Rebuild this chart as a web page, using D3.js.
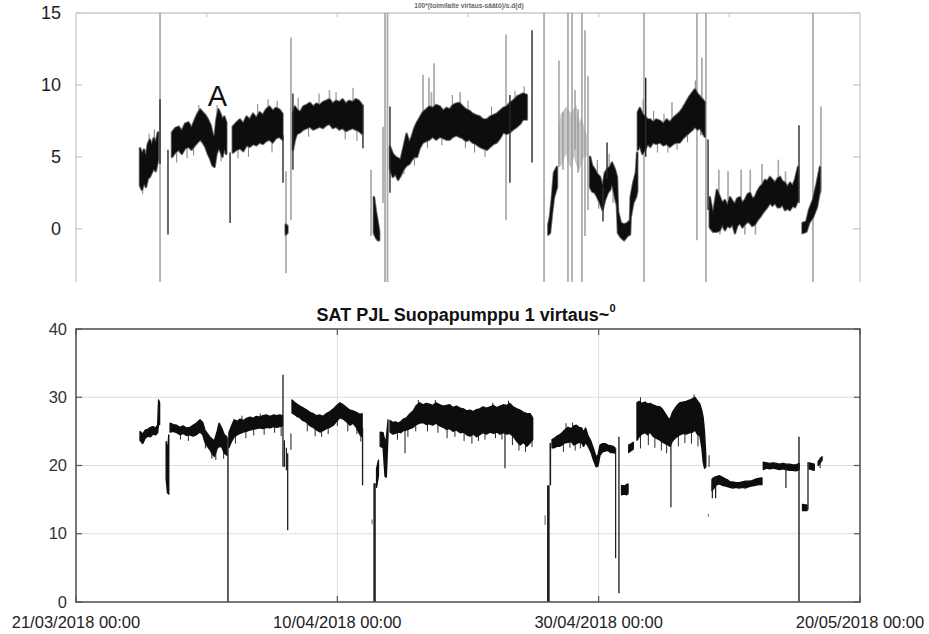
<!DOCTYPE html>
<html>
<head>
<meta charset="utf-8">
<script src="https://cdn.jsdelivr.net/npm/d3@7/dist/d3.min.js"></script>
<style>
  body { margin: 0; background: #fff; }
  svg { display: block; font-family: "Liberation Sans", Arial, sans-serif; }
</style>
</head>
<body>
<svg id="chart" width="929" height="634"></svg>
<script>
// Time axis: days counted from 21/03/2018 00:00
const startDate = Date.UTC(2018, 2, 21);
const xLabelDays = [0, 20, 40, 60];
const topTickDays = [0, 10, 20, 30, 40, 50, 60];
const topYTicks = [0, 5, 10, 15];
const bottomYTicks = [0, 10, 20, 30, 40];

const topTitle = "100*(toimilaite virtaus-säätö)/s.d(d)";
const bottomTitle = "SAT PJL Suopapumppu 1 virtaus~";
const bottomTitleSup = "0";
const markerLabel = { text: "A", day: 10.83, value: 8.55 };

// Upper panel: relative control signal, envelope per sample [day, low, high]
const topBands = [
  [[4.90,3.0,5.6],[5.05,2.7,5.2],[5.20,3.2,5.5],[5.35,2.9,5.0],[5.50,3.5,5.9],[5.65,3.6,6.2],[5.80,3.9,5.8],[5.95,4.2,6.3],[6.10,4.0,6.0],[6.28,4.8,6.7]],
  [[7.35,5.0,6.7],[7.60,5.3,7.0],[7.85,5.5,7.1],[8.10,5.2,6.8],[8.35,5.6,7.3],[8.60,5.7,7.4],[8.85,5.5,7.0],[9.10,5.8,7.6],[9.30,6.0,8.0],[9.50,6.2,8.3],[9.70,6.0,8.1],[9.90,5.7,7.9],[10.10,5.2,7.6],[10.30,4.8,7.2],[10.45,4.4,6.6],[10.60,4.3,6.3],[10.75,5.2,7.6],[10.90,5.6,8.3],[11.05,5.4,8.0],[11.20,5.0,7.6],[11.35,5.6,7.8],[11.50,5.2,7.4]],
  [[12.00,5.3,7.1],[12.30,5.5,7.4],[12.55,5.6,7.6],[12.80,5.4,7.3],[13.05,5.8,7.8],[13.30,5.7,7.6],[13.55,5.9,8.0],[13.80,5.8,7.7],[14.05,6.0,8.1],[14.30,5.9,7.9],[14.55,6.1,8.3],[14.80,6.2,8.5],[15.05,6.0,8.2],[15.30,6.3,8.4],[15.55,6.4,8.3],[15.80,6.2,8.0]],
  [[16.05,-0.4,0.3],[16.18,-0.3,0.2]],
  [[16.60,5.5,8.0],[16.75,6.2,8.5],[16.90,6.6,8.3],[17.15,6.7,8.1],[17.40,6.9,8.5],[17.65,7.0,8.6],[17.90,7.1,8.75],[18.15,6.9,8.5],[18.40,7.0,8.7],[18.65,7.1,8.6],[18.90,7.0,8.8],[19.15,7.2,8.9],[19.40,7.3,9.0],[19.65,7.0,8.7],[19.90,7.1,8.9],[20.15,6.9,8.8],[20.40,7.0,9.0],[20.65,6.8,8.7],[20.90,6.9,8.9],[21.15,7.0,8.8],[21.40,6.9,9.0],[21.65,6.8,8.9],[21.90,6.6,8.6]],
  [[22.80,-0.3,2.2],[22.95,-0.6,1.2],[23.10,-0.8,0.4],[23.20,-0.8,-0.2]],
  [[24.03,4.2,5.7],[24.25,3.6,5.2],[24.45,3.8,5.0],[24.65,3.4,4.9],[24.85,3.7,4.8],[25.05,4.1,5.6],[25.30,4.4,6.6],[25.50,4.5,6.0],[25.70,4.8,6.4],[25.90,5.0,7.0],[26.10,5.0,7.4],[26.30,5.6,7.7],[26.55,6.0,8.1],[26.80,6.1,8.3],[27.05,6.2,8.5],[27.30,6.4,8.4],[27.55,6.2,8.6],[27.85,6.4,8.5],[28.10,6.3,8.2],[28.35,6.2,8.4],[28.60,6.2,8.3],[28.85,6.4,8.6],[29.10,6.5,8.7],[29.35,6.4,8.75],[29.60,6.3,8.5],[29.85,6.1,8.3],[30.10,6.2,8.2],[30.35,6.0,8.0],[30.60,5.9,7.9],[30.90,5.7,7.8],[31.15,5.6,7.6],[31.45,5.5,7.6],[31.70,5.7,7.8],[31.95,5.9,7.9],[32.20,6.0,8.0],[32.45,6.3,8.2],[32.70,6.7,8.4],[32.95,6.6,8.5],[33.20,6.7,8.75],[33.45,6.9,8.9],[33.75,7.1,9.2],[34.00,7.3,9.3],[34.20,7.6,9.4],[34.50,7.6,9.3]],
  [[36.15,-0.4,0.3],[36.27,-0.3,0.8],[36.43,1.1,2.2],[36.58,2.2,3.9],[36.81,2.9,4.3]],
  [[39.34,2.9,5.0],[39.50,2.6,4.4],[39.72,2.5,4.1],[39.90,2.2,3.8],[40.10,1.8,3.6],[40.30,1.3,2.9],[40.48,2.0,3.9],[40.70,2.5,4.2],[40.87,2.7,4.3],[41.02,3.2,4.6],[41.25,2.2,4.1],[41.40,1.6,3.6],[41.48,-0.3,1.2],[41.70,-0.6,0.4],[41.95,-0.8,0.3],[42.20,-0.5,0.4],[42.40,-0.4,0.6],[42.45,0.8,2.2],[42.65,1.8,3.2],[42.85,2.2,3.9],[42.95,2.6,5.3]],
  [[43.00,5.5,8.1],[43.15,5.8,8.4],[43.35,5.2,8.0],[43.55,5.5,7.8],[43.75,5.9,7.6],[43.95,5.7,7.6],[44.15,6.0,7.4],[44.40,5.9,7.6],[44.70,6.0,7.5],[44.95,5.8,7.3],[45.20,5.9,7.6],[45.45,5.7,7.4],[45.70,5.9,7.7],[45.95,6.0,7.9],[46.20,6.0,8.1],[46.45,6.3,8.4],[46.70,6.5,8.8],[46.95,6.7,9.2],[47.20,6.9,9.5],[47.37,7.1,9.7],[47.55,6.9,9.4],[47.75,7.0,9.2],[47.95,6.7,9.0],[48.12,6.4,8.8]],
  [[48.50,0.1,2.2],[48.75,-0.2,1.0],[49.05,-0.2,2.7],[49.28,-0.1,2.2],[49.45,0.3,1.8],[49.66,-0.1,2.0],[49.85,0.2,1.6],[50.05,0.1,2.2],[50.25,0.3,1.9],[50.43,-0.3,1.7],[50.60,0.2,2.1],[50.81,0.4,2.2],[51.00,0.1,1.8],[51.19,0.3,2.0],[51.40,0.5,2.4],[51.58,0.4,2.5],[51.75,0.2,2.1],[51.96,0.3,2.2],[52.15,0.6,2.6],[52.34,0.8,2.9],[52.55,1.1,3.1],[52.73,1.3,3.4],[52.90,1.5,3.3],[53.11,1.8,3.6],[53.30,1.6,3.4],[53.49,1.8,3.2],[53.70,1.5,3.5],[53.88,1.5,3.6],[54.05,1.7,3.3],[54.26,1.3,3.2],[54.45,1.4,2.9],[54.64,1.3,3.2],[54.85,1.6,3.0],[55.03,1.5,3.4],[55.26,2.0,4.3]],
  [[55.60,-0.3,0.4],[55.90,-0.2,0.5],[56.10,0.4,1.3],[56.40,0.8,2.0],[56.70,1.5,3.2],[56.94,2.7,4.3]]
];

// Upper panel: sparse, lighter samples between 37 and 39 days
const topGrayBand = [[36.90,4.6,6.8],[37.10,4.3,8.0],[37.30,4.8,8.2],[37.50,5.2,8.5],[37.70,4.5,8.3],[37.90,4.2,8.0],[38.10,5.0,8.4],[38.30,4.4,8.6],[38.50,4.0,7.4],[38.70,4.6,7.8],[38.90,5.0,7.0],[39.10,5.0,6.5]];

// Upper panel: vertical excursions [day, low, high] (null = beyond the frame)
const topSpikesGray = [
  [6.43,null,null],[23.65,null,null],[23.84,null,null],[35.82,null,null],[37.65,null,null],[37.96,null,null],[38.72,null,null],[43.47,null,null],[48.21,null,null],[56.40,null,null],
  [16.07,-3.1,4.0],[16.45,0.6,13.3],[32.91,0.6,13.5],[47.52,-0.8,null],[38.95,-0.5,13.8],[39.18,1.3,10.6],[36.96,4.3,11.7],[37.27,4.1,8.1],[38.19,5.5,9.65],[38.42,3.9,8.3],[47.90,6.5,11.9],[57.01,2.5,8.5],[23.50,1.8,7.1],[22.58,-0.5,4.1],
  [26.56,7.5,10.7],[27.01,7.5,10.5],[27.40,7.8,11.5],[27.20,7.0,9.5],[19.40,8.8,9.65],[29.40,8.5,9.5],[45.61,7.5,8.8],[46.45,8.0,8.6],
  [49.28,-0.4,1.0],[50.43,-0.4,1.0],[51.19,-0.4,0.8],[52.00,-0.4,0.5],[49.20,2.0,4.1],[49.90,2.0,4.0],[50.90,2.0,4.1],[51.60,2.3,4.1],[52.50,2.8,4.5],[53.75,3.0,4.8],[54.30,3.0,4.0]
];
// Upper panel: short whiskers around the dense band [day, low, high]
const topWhiskers = [
  [5.10,2.4,3.2],[5.60,6.0,6.6],[6.00,6.2,6.9],
  [7.70,4.6,5.6],[8.50,4.9,5.8],[9.00,5.1,6.0],[9.40,8.0,8.6],[10.80,7.5,8.6],[11.10,4.7,5.6],
  [12.40,4.9,5.7],[13.20,5.0,6.0],[13.90,8.0,8.7],[14.70,8.3,9.0],[15.00,5.3,6.2],[15.40,8.2,8.9],
  [17.00,8.2,9.1],[17.80,6.4,7.3],[18.60,8.5,9.4],[19.90,8.7,9.5],[20.60,6.2,7.0],[21.20,8.6,9.8],[21.50,6.1,7.0],
  [25.10,3.8,5.0],[25.90,4.4,5.2],[26.90,5.6,6.3],[28.00,5.8,6.5],[28.80,8.5,9.3],[29.80,5.6,6.3],[30.00,8.0,8.9],[30.50,5.3,6.2],[31.30,5.0,5.8],[31.80,7.7,8.5],[33.60,8.8,9.6],[34.30,9.2,9.9],
  [39.90,3.8,4.8],[40.00,1.4,2.3],[40.80,4.2,5.2],[41.10,1.8,2.8],
  [43.40,8.0,9.0],[44.20,7.3,8.2],[44.50,5.3,6.0],[45.00,7.2,8.0],[45.30,5.3,6.0],[46.00,5.5,6.1],[46.80,6.0,6.6],[47.40,9.5,10.3],[47.80,6.5,7.2]
];
const topSpikesDark = [
  [6.43,4.5,9.0],[7.04,-0.4,5.5],[11.79,0.4,5.3],[15.84,3.2,6.5],[16.60,4.1,9.4],[21.96,5.6,8.6],[34.90,4.6,13.8],[33.21,3.2,9.3],[40.33,0.5,2.9],[40.64,3.5,6.0],[43.60,5.0,10.5],[48.37,1.3,6.2],[55.33,1.8,7.2],[24.03,2.5,8.5]
];

// Lower panel: pump flow envelope [day, low, high]
const bottomBands = [
  [[4.90,23.7,25.0],[5.10,23.2,24.6],[5.30,24.0,25.2],[5.50,24.3,25.3],[5.70,24.2,25.6],[5.90,24.6,25.7],[6.10,24.5,25.5],[6.25,24.8,26.0],[6.32,26.0,29.6],[6.40,26.0,29.2]],
  [[6.90,18.0,23.5],[7.00,16.0,22.0],[7.10,15.8,24.5]],
  [[7.20,24.9,26.2],[7.45,25.0,26.0],[7.70,24.8,25.9],[7.96,24.5,25.6],[8.20,24.7,25.8],[8.45,24.4,25.5],[8.72,24.5,25.6],[8.95,24.3,25.9],[9.20,24.5,26.2],[9.49,24.9,26.7],[9.70,24.5,26.3],[9.87,23.4,25.2],[10.05,22.8,24.7],[10.25,22.3,24.2],[10.45,21.6,23.8],[10.60,21.3,23.7],[10.80,22.5,25.0],[10.95,22.8,26.2],[11.15,22.7,25.5],[11.35,21.8,24.5],[11.55,21.5,24.2]],
  [[11.70,22.6,24.8],[11.90,23.5,25.8],[12.10,24.2,26.7],[12.35,24.5,26.5],[12.55,24.7,26.8],[12.80,24.9,26.6],[13.05,25.0,26.9],[13.32,25.2,27.1],[13.55,25.3,26.9],[13.80,25.4,27.2],[14.08,25.5,27.1],[14.30,25.4,27.3],[14.60,25.6,27.4],[14.85,25.5,27.2],[15.10,25.7,27.4],[15.35,25.6,27.3],[15.61,25.7,27.4],[15.80,25.8,27.3]],
  [[16.53,27.7,29.6],[16.70,27.5,29.3],[16.90,27.2,29.0],[17.14,27.0,28.7],[17.35,26.6,28.5],[17.60,26.4,28.2],[17.91,25.8,27.8],[18.15,25.6,27.6],[18.40,25.2,27.3],[18.67,24.9,27.4],[18.90,25.1,27.2],[19.15,25.4,27.6],[19.44,25.6,27.9],[19.70,25.9,28.3],[19.95,26.5,28.8],[20.20,27.0,29.2],[20.45,26.8,28.9],[20.70,26.4,28.5],[20.97,25.9,28.1],[21.20,26.2,28.0],[21.45,25.6,27.8],[21.73,24.5,27.5],[21.90,24.2,27.6]],
  [[23.00,16.8,19.5],[23.15,18.5,20.8]],
  [[23.28,22.8,24.9],[23.50,22.6,24.8],[23.65,18.4,23.5],[23.75,18.3,24.0],[23.88,24.5,26.7]],
  [[24.03,24.9,26.6],[24.25,24.6,26.3],[24.45,24.7,26.4],[24.65,24.9,26.2],[24.85,24.8,26.4],[25.05,25.1,26.8],[25.30,25.2,27.0],[25.55,25.4,27.6],[25.80,25.6,28.0],[26.05,26.0,28.8],[26.30,26.2,29.2],[26.55,26.3,28.9],[26.80,26.0,29.1],[27.05,26.1,29.0],[27.30,25.9,28.8],[27.55,26.2,29.2],[27.85,25.8,28.9],[28.10,25.6,28.7],[28.35,25.3,28.8],[28.60,25.4,28.9],[28.85,25.0,28.5],[29.10,25.2,28.7],[29.40,24.8,28.4],[29.65,24.9,28.3],[29.90,24.5,28.0],[30.15,24.3,28.1],[30.40,24.6,27.9],[30.65,24.2,28.2],[30.90,24.5,28.3],[31.15,24.8,28.6],[31.40,24.6,28.4],[31.70,24.9,28.6],[31.95,24.7,28.8],[32.20,24.9,28.5],[32.45,24.6,28.7],[32.70,24.8,28.9],[32.95,24.6,28.8],[33.20,24.7,29.1],[33.45,24.3,28.6],[33.75,23.5,28.3],[34.00,23.0,28.1],[34.25,23.4,27.8],[34.50,22.8,27.6],[34.75,23.3,27.6],[34.95,23.8,27.0]],
  [[36.43,22.6,23.8],[36.60,22.6,24.0],[36.80,22.8,24.3],[37.00,22.8,24.5],[37.20,23.0,24.8],[37.40,23.3,25.2],[37.65,23.4,25.6],[37.90,23.5,25.4],[38.10,23.0,25.8],[38.30,23.2,25.9],[38.50,23.4,25.6],[38.70,23.3,25.5],[38.85,22.8,24.9],[39.00,23.4,25.5],[39.20,22.8,24.3],[39.40,22.0,23.6],[39.60,20.8,22.5],[39.80,19.8,21.3],[39.95,19.9,21.5],[40.10,21.5,23.0],[40.30,22.0,23.2],[40.50,22.1,23.2],[40.70,22.2,23.0],[40.90,21.9,22.9],[41.10,21.9,22.8],[41.25,21.8,22.6]],
  [[41.75,15.7,17.1],[41.95,15.8,17.0],[42.15,15.7,17.2],[42.25,15.9,17.3]],
  [[42.30,21.9,23.0],[42.50,22.2,23.2],[42.65,22.4,23.4]],
  [[42.93,23.7,29.2],[43.10,24.2,29.4],[43.30,24.6,29.1],[43.54,24.8,29.3],[43.75,24.5,29.0],[43.93,24.9,29.1],[44.15,24.3,28.9],[44.40,24.0,28.7],[44.69,23.7,28.6],[44.90,23.4,28.2],[45.10,23.2,27.6],[45.30,23.0,27.0],[45.46,22.8,26.7],[45.65,23.6,27.8],[45.85,24.0,28.4],[46.05,24.3,28.9],[46.22,24.5,29.2],[46.45,24.7,29.3],[46.70,24.6,29.4],[46.99,24.8,29.6],[47.20,24.9,29.8],[47.37,25.2,30.0],[47.55,24.6,29.5],[47.75,24.3,29.0],[47.90,22.5,28.0],[48.00,20.5,27.0],[48.10,19.6,25.0],[48.20,19.8,21.5]],
  [[48.67,16.3,18.0],[48.80,16.6,18.2],[48.90,16.9,18.3],[49.05,17.2,18.4],[49.25,17.3,18.5],[49.45,17.1,18.3],[49.65,17.0,18.1],[49.85,16.9,17.9],[50.05,16.8,17.6],[50.25,16.7,17.6],[50.50,16.8,17.5],[50.75,16.7,17.5],[51.00,16.8,17.6],[51.25,16.7,17.7],[51.50,16.9,17.7],[51.75,17.0,17.8],[52.00,17.1,18.0],[52.25,17.2,18.1],[52.50,17.2,18.2]],
  [[52.60,19.4,20.5],[52.85,19.6,20.4],[53.10,19.5,20.3],[53.35,19.6,20.4],[53.60,19.5,20.3],[53.85,19.4,20.2],[54.10,19.5,20.3],[54.35,19.4,20.2],[54.60,19.3,20.2],[54.85,19.3,20.1],[55.10,19.2,20.1],[55.35,19.4,20.3]],
  [[55.60,13.4,14.3],[55.95,13.4,14.2]],
  [[56.10,19.5,20.4],[56.50,19.3,20.2]],
  [[56.80,20.0,20.6],[57.10,20.8,21.3]]
];

// Lower panel: vertical excursions [day, low, high, width]
const bottomSpikes = [
  [11.63,0,24.0,1.4],[55.33,0,24.2,1.4],[22.85,0,17.4,2.4],[36.15,0,17.1,2.6],
  [41.30,6.4,22.5,1.2],[41.55,1.3,24.2,1.3],[15.84,19.8,33.3,1.3],[15.95,19.8,23.7,1.2],
  [16.10,19.3,22.6,1.2],[16.20,10.5,21.8,1.3],[16.45,22.3,24.7,1.0],[21.93,17.1,25.5,1.3],
  [36.30,17.1,23.3,1.6],[56.02,13.5,20.5,1.2],[54.33,16.7,20.0,1.2],[48.70,15.2,17.5,1.2],
  [48.95,15.2,18.3,1.2],[56.95,19.6,21.2,1.0],[32.83,19.6,25.0,1.2],[25.18,21.8,25.2,1.0],
  [45.53,13.9,24.0,1.2],[48.45,19.8,21.5,1.0]
];
// Lower panel: short whiskers around the dense band [day, low, high]
const bottomWhiskers = [
  [8.00,23.8,25.0],[8.60,23.6,25.0],[9.90,22.5,24.0],[10.40,21.0,23.0],[10.70,20.8,22.5],[11.30,21.0,23.0],
  [12.20,23.2,25.0],[13.00,24.0,25.5],[13.60,24.4,25.6],[14.40,24.5,26.0],[15.20,24.8,26.0],[15.70,24.3,26.0],[12.70,26.5,27.3],[14.10,26.8,27.6],
  [17.70,25.0,26.5],[18.30,24.3,25.8],[18.80,24.2,25.5],[19.30,24.6,26.0],[20.00,25.8,27.0],[20.80,25.0,26.5],[21.50,24.6,26.0],[21.80,23.5,25.0],
  [24.60,23.8,25.0],[25.40,24.2,25.6],[26.00,25.0,26.3],[26.90,25.0,26.5],[27.70,24.8,26.2],[28.40,24.0,25.6],[29.00,24.2,25.6],[29.70,23.6,25.0],[30.30,23.2,24.7],[30.80,23.6,25.0],[31.30,23.8,25.0],[32.10,24.0,25.2],[32.60,23.8,25.2],[33.40,23.0,24.5],[33.90,22.2,23.6],[34.40,22.0,23.2],[34.90,22.7,24.0],
  [26.20,28.8,29.6],[27.50,29.0,29.6],[31.90,28.5,29.2],[33.10,28.8,29.5],
  [37.30,22.0,23.2],[37.80,22.6,23.8],[38.20,22.2,23.4],[38.60,22.5,23.6],[37.50,25.0,26.2],[38.00,25.3,26.3],
  [43.20,22.5,24.5],[43.80,23.0,24.8],[44.30,22.6,24.2],[44.80,22.2,23.8],[45.20,21.8,23.4],[46.10,22.8,24.5],[46.60,23.3,24.8],[47.10,23.2,25.0],[47.60,22.8,24.8],[43.20,29.2,30.0],[47.30,29.8,30.4]
];
const bottomFaint = [[22.66,11.4,12.1],[35.90,11.3,12.7],[48.40,12.5,12.9]];

// ---------- drawing ----------
const svg = d3.select("#chart");
const dayToDate = d => new Date(startDate + d * 864e5);
const plotLeft = 76, plotRight = 860;

const x = d3.scaleUtc()
  .domain([dayToDate(0), dayToDate(60)])
  .range([plotLeft, plotRight]);

const yTop = d3.scaleLinear().domain([-3.7, 15]).range([282, 13]);
const yBot = d3.scaleLinear().domain([0, 40]).range([602, 329]);

const defs = svg.append("defs");
defs.append("filter").attr("id", "soft")
  .append("feGaussianBlur").attr("stdDeviation", 0.55);
defs.append("filter").attr("id", "softer")
  .append("feGaussianBlur").attr("stdDeviation", 0.35);

const vline = (sel, yScale) => sel
  .attr("x1", d => x(dayToDate(d[0]))).attr("x2", d => x(dayToDate(d[0])))
  .attr("y1", d => d[1] === null ? yScale.range()[0] : yScale(d[1]))
  .attr("y2", d => d[2] === null ? yScale.range()[1] : yScale(d[2]));

// ----- upper panel -----
const upper = svg.append("g");
const topFrame = upper.append("g").attr("stroke", "#c9c9c9").attr("stroke-width", 1.3).attr("fill", "none");
topFrame.append("line").attr("x1", plotLeft).attr("x2", plotLeft).attr("y1", yTop.range()[1]).attr("y2", yTop.range()[0]);
topFrame.append("line").attr("x1", plotRight).attr("x2", plotRight).attr("y1", yTop.range()[1]).attr("y2", yTop.range()[0]);
topFrame.append("line").attr("x1", plotLeft).attr("x2", plotRight).attr("y1", yTop.range()[1]).attr("y2", yTop.range()[1]);

topFrame.selectAll(".tx").data(topTickDays.slice(1, -1)).join("line")
  .attr("x1", d => x(dayToDate(d))).attr("x2", d => x(dayToDate(d)))
  .attr("y1", yTop(15)).attr("y2", yTop(15) + 4);
topFrame.selectAll(".tyl").data(topYTicks).join("line")
  .attr("x1", plotLeft).attr("x2", plotLeft + 6)
  .attr("y1", d => yTop(d)).attr("y2", d => yTop(d));
topFrame.selectAll(".tyr").data(topYTicks).join("line")
  .attr("x1", plotRight - 7).attr("x2", plotRight)
  .attr("y1", d => yTop(d)).attr("y2", d => yTop(d));

upper.selectAll(".tyLabel").data(topYTicks).join("text")
  .attr("x", 61).attr("y", d => yTop(d) + 6)
  .attr("text-anchor", "end").attr("font-size", 18).attr("fill", "#1e1e1e")
  .text(d => d);

upper.append("text").attr("x", 469).attr("y", 8).attr("text-anchor", "middle")
  .attr("font-size", 6.6).attr("font-weight", "bold").attr("fill", "#6a6a6a")
  .text(topTitle);

const topMarks = upper.append("g").attr("filter", "url(#soft)");

topMarks.selectAll(".sg").data(topSpikesGray).join("line")
  .call(vline, yTop)
  .attr("stroke", "#a9a9a9").attr("stroke-width", 1.7);

topMarks.append("path").datum(topGrayBand)
  .attr("d", d3.area().x(d => x(dayToDate(d[0]))).y0(d => yTop(d[1])).y1(d => yTop(d[2])))
  .attr("fill", "#9a9a9a").attr("opacity", 0.55);

topMarks.selectAll(".tw").data(topWhiskers).join("line")
  .call(vline, yTop)
  .attr("stroke", "#8a8a8a").attr("stroke-width", 1.1);

const topArea = d3.area()
  .x(d => x(dayToDate(d[0]))).y0(d => yTop(d[1])).y1(d => yTop(d[2]));
// gray fringe under the dense core
topMarks.selectAll(".tbh").data(topBands).join("path")
  .attr("d", topArea).attr("fill", "none")
  .attr("stroke", "#7a7a7a").attr("stroke-width", 2.6).attr("stroke-linejoin", "round");
topMarks.selectAll(".tb").data(topBands).join("path")
  .attr("d", topArea).attr("fill", "#0d0d0d")
  .attr("stroke", "#0d0d0d").attr("stroke-width", 0.8).attr("stroke-linejoin", "round");

topMarks.selectAll(".sd").data(topSpikesDark).join("line")
  .call(vline, yTop)
  .attr("stroke", "#2a2a2a").attr("stroke-width", 1.4);

upper.append("text")
  .attr("x", x(dayToDate(markerLabel.day))).attr("y", yTop(markerLabel.value))
  .attr("text-anchor", "middle").attr("font-size", 29).attr("fill", "#111")
  .text(markerLabel.text);

// ----- lower panel -----
const lower = svg.append("g");

lower.append("g").attr("stroke", "#dedede").attr("stroke-width", 1)
  .selectAll("line").data(bottomYTicks.slice(1, -1)).join("line")
  .attr("x1", plotLeft).attr("x2", plotRight).attr("y1", d => yBot(d)).attr("y2", d => yBot(d));
lower.append("g").attr("stroke", "#dedede").attr("stroke-width", 1)
  .selectAll("line").data(xLabelDays.slice(1, -1)).join("line")
  .attr("x1", d => x(dayToDate(d))).attr("x2", d => x(dayToDate(d)))
  .attr("y1", yBot(40)).attr("y2", yBot(0));

const botMarks = lower.append("g").attr("filter", "url(#softer)");
const botArea = d3.area()
  .x(d => x(dayToDate(d[0]))).y0(d => yBot(d[1])).y1(d => yBot(d[2]));
botMarks.selectAll(".bw").data(bottomWhiskers).join("line")
  .call(vline, yBot)
  .attr("stroke", "#2a2a2a").attr("stroke-width", 1.0);
botMarks.selectAll(".bb").data(bottomBands).join("path")
  .attr("d", botArea).attr("fill", "#0b0b0b")
  .attr("stroke", "#0b0b0b").attr("stroke-width", 1.3).attr("stroke-linejoin", "round");
botMarks.selectAll(".bs").data(bottomSpikes).join("line")
  .call(vline, yBot)
  .attr("stroke", "#1a1a1a").attr("stroke-width", d => d[3]);
botMarks.selectAll(".bf").data(bottomFaint).join("line")
  .call(vline, yBot)
  .attr("stroke", "#777").attr("stroke-width", 1.2);

// frame and axes
lower.append("rect").attr("x", plotLeft).attr("y", yBot(40))
  .attr("width", plotRight - plotLeft).attr("height", yBot(0) - yBot(40))
  .attr("fill", "none").attr("stroke", "#575757").attr("stroke-width", 1.6);

const botTicks = lower.append("g").attr("stroke", "#575757").attr("stroke-width", 1.2);
botTicks.selectAll(".bl").data(bottomYTicks).join("line")
  .attr("x1", plotLeft).attr("x2", plotLeft + 6).attr("y1", d => yBot(d)).attr("y2", d => yBot(d));
botTicks.selectAll(".br").data(bottomYTicks).join("line")
  .attr("x1", plotRight - 6).attr("x2", plotRight).attr("y1", d => yBot(d)).attr("y2", d => yBot(d));
botTicks.selectAll(".bxt").data(xLabelDays).join("line")
  .attr("x1", d => x(dayToDate(d))).attr("x2", d => x(dayToDate(d)))
  .attr("y1", yBot(40)).attr("y2", yBot(40) + 6);
botTicks.selectAll(".bxb").data(xLabelDays).join("line")
  .attr("x1", d => x(dayToDate(d))).attr("x2", d => x(dayToDate(d)))
  .attr("y1", yBot(0) - 6).attr("y2", yBot(0));

lower.selectAll(".byLabel").data(bottomYTicks).join("text")
  .attr("x", 67).attr("y", d => yBot(d) + 5.5)
  .attr("text-anchor", "end").attr("font-size", 16.5).attr("fill", "#333")
  .text(d => d);

const fmt = d3.utcFormat("%d/%m/%Y %H:%M");
lower.selectAll(".bxLabel").data(xLabelDays).join("text")
  .attr("x", d => x(dayToDate(d))).attr("y", 628)
  .attr("text-anchor", "middle").attr("font-size", 16.5).attr("fill", "#222")
  .text(d => fmt(dayToDate(d)));

const titleText = lower.append("text").attr("x", 466).attr("y", 321)
  .attr("text-anchor", "middle").attr("font-size", 18).attr("font-weight", "bold").attr("fill", "#111");
titleText.append("tspan").text(bottomTitle);
titleText.append("tspan").attr("dy", -9).attr("font-size", 11).text(bottomTitleSup);
</script>
</body>
</html>
